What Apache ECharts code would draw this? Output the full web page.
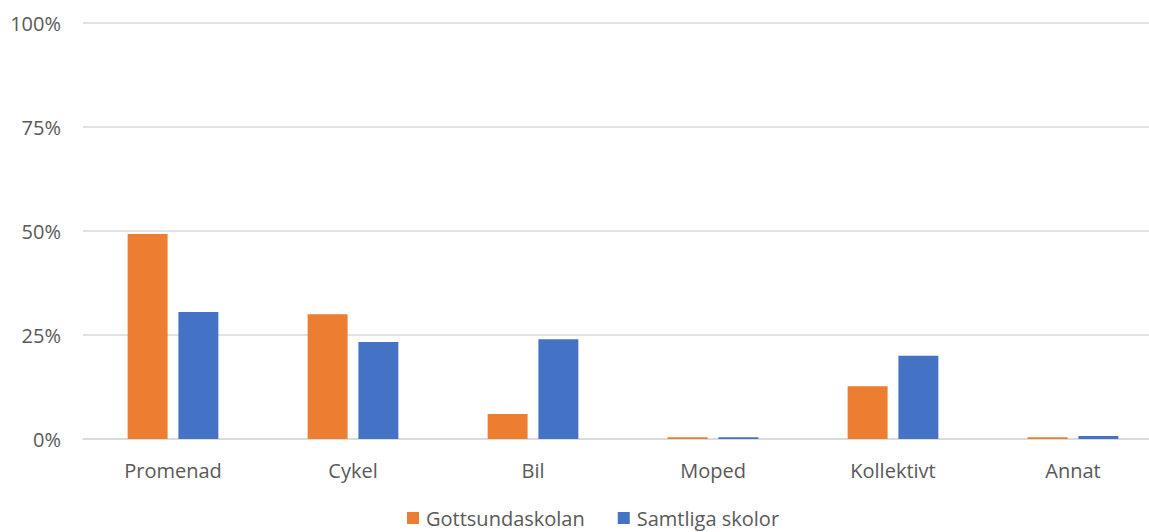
<!DOCTYPE html>
<html>
<head>
<meta charset="utf-8">
<script src="https://cdn.jsdelivr.net/npm/echarts@6/dist/echarts.min.js"></script>
<style>
  html, body { margin: 0; padding: 0; background: #fff; }
  #chart { width: 1149px; height: 532px; }
</style>
</head>
<body>
<div id="chart"></div>
<script>
// categories and values (percent)
var categories = ['Promenad', 'Cykel', 'Bil', 'Moped', 'Kollektivt', 'Annat'];
var gottsunda = [49.3, 30.0, 6.0, 0.4, 12.7, 0.4];
var samtliga = [30.5, 23.3, 24.0, 0.4, 20.0, 0.7];
var seriesNames = ['Gottsundaskolan', 'Samtliga skolor'];

var textColor = '#595959';
var fontFam = '"Open Sans", "Liberation Sans", sans-serif';

var myChart = echarts.init(document.getElementById('chart'), null, { renderer: 'svg' });
var option = {
  backgroundColor: '#fff',
  animation: false,
  legend: {
    top: 503,
    left: 402,
    itemWidth: 12,
    itemHeight: 12,
    itemGap: 33,
    icon: 'rect',
    textStyle: { color: textColor, fontSize: 20, fontFamily: fontFam, padding: [0, 0, 0, 2] },
    data: seriesNames
  },
  grid: { left: 83, right: -14, top: 23, bottom: 93, containLabel: false, outerBoundsMode: 'none' },
  xAxis: {
    type: 'category',
    data: categories,
    axisLine: { lineStyle: { color: '#d9d9d9', width: 1.5 } },
    axisTick: { show: false },
    axisLabel: { color: textColor, fontSize: 20, fontFamily: fontFam, margin: 21 }
  },
  yAxis: {
    type: 'value',
    min: 0,
    max: 100,
    interval: 25,
    axisLine: { show: false },
    axisTick: { show: false },
    splitLine: { lineStyle: { color: '#d9d9d9', width: 1.5 } },
    axisLabel: { color: textColor, fontSize: 20, fontFamily: fontFam, margin: 22, formatter: '{value}%' }
  },
  series: [
    {
      name: seriesNames[0],
      type: 'bar',
      data: gottsunda,
      barWidth: '22.2%',
      barGap: '27%',
      itemStyle: { color: '#ed7d31' }
    },
    {
      name: seriesNames[1],
      type: 'bar',
      data: samtliga,
      barWidth: '22.2%',
      itemStyle: { color: '#4472c4' }
    }
  ]
};
myChart.setOption(option, true);
</script>
</body>
</html>
